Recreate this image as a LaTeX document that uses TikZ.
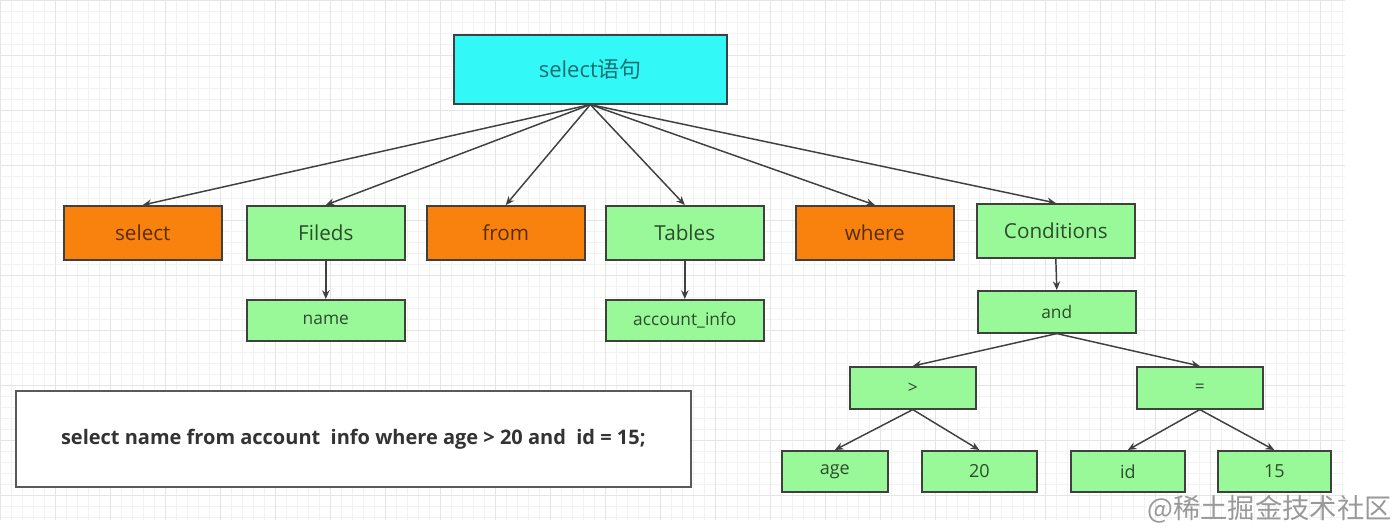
\documentclass[tikz,border=0pt]{standalone}
\usepackage{fontspec}
\setmainfont{Open Sans}
\newfontfamily\cjkfont{Noto Sans CJK SC}
\usetikzlibrary{arrows.meta}
\definecolor{boxorange}{HTML}{F9820F}
\definecolor{boxgreen}{HTML}{99F999}
\definecolor{boxcyan}{HTML}{33F8F8}
\definecolor{edgegray}{HTML}{404040}
\tikzset{
  box/.style={draw=edgegray, line width=1.2pt, inner sep=0pt, anchor=north west},
  obox/.style={box, fill=boxorange, text=boxorange!35!black},
  gbox/.style={box, fill=boxgreen, text=boxgreen!30!black},
  cbox/.style={box, fill=boxcyan, text=boxcyan!45!black},
  conn/.style={draw=edgegray, line width=1.1pt, -{Stealth[length=6.5pt,width=5.5pt]}},
  bigtxt/.style={font=\fontsize{15.5}{17}\selectfont},
  smalltxt/.style={font=\fontsize{13}{15}\selectfont},
}
\begin{document}
\begin{tikzpicture}[x=0.75pt,y=-0.75pt]
\useasboundingbox (0,0) rectangle (1400,531);
\fill[white] (0,0) rectangle (1400,531);
% grid
\foreach \i in {0,...,122} {
  \draw[black!5, line width=0.5pt] (\i*11,0) -- (\i*11,520);
}
\foreach \j in {0,...,47} {
  \draw[black!5, line width=0.5pt] (0,\j*11) -- (1345,\j*11);
}
\foreach \i in {0,...,24} {
  \draw[black!10, line width=0.6pt] (\i*55,0) -- (\i*55,520);
}
\foreach \j in {0,...,9} {
  \draw[black!10, line width=0.6pt] (0,\j*55) -- (1345,\j*55);
}
% top
\node[cbox, minimum width=273*0.75pt, minimum height=69*0.75pt, font=\fontsize{16.5}{18}\selectfont] (root) at (453,34) {select{\cjkfont 语句}};
% row 2
\node[obox, minimum width=158*0.75pt, minimum height=54*0.75pt, bigtxt] (sel) at (63,205) {select};
\node[gbox, minimum width=158*0.75pt, minimum height=54*0.75pt, bigtxt] (fld) at (246,205) {Fileds};
\node[obox, minimum width=158*0.75pt, minimum height=54*0.75pt, bigtxt] (frm) at (426,205) {from};
\node[gbox, minimum width=158*0.75pt, minimum height=54*0.75pt, bigtxt] (tbl) at (605,205) {Tables};
\node[obox, minimum width=158*0.75pt, minimum height=54*0.75pt, bigtxt] (whr) at (795,205) {where};
\node[gbox, minimum width=158*0.75pt, minimum height=54*0.75pt, bigtxt] (cnd) at (976,203) {Conditions};
% row 3
\node[gbox, minimum width=158*0.75pt, minimum height=41*0.75pt, smalltxt] (nam) at (246,299) {name};
\node[gbox, minimum width=158*0.75pt, minimum height=41*0.75pt, smalltxt] (acc) at (605,299) {account\_info};
\node[gbox, minimum width=158*0.75pt, minimum height=42*0.75pt, smalltxt] (and) at (977,290) {and};
% row 4
\node[gbox, minimum width=126*0.75pt, minimum height=42*0.75pt, smalltxt] (gt) at (849,366) {>};
\node[gbox, minimum width=126*0.75pt, minimum height=42*0.75pt, smalltxt] (eq) at (1136,366) {=};
% row 5
\node[gbox, minimum width=106*0.75pt, minimum height=41*0.75pt, font=\fontsize{13.5}{15}\selectfont] (age) at (781,450) {age};
\node[gbox, minimum width=115*0.75pt, minimum height=41*0.75pt, font=\fontsize{13.5}{15}\selectfont] (n20) at (921,450) {20};
\node[gbox, minimum width=114*0.75pt, minimum height=41*0.75pt, font=\fontsize{13.5}{15}\selectfont] (id) at (1070,450) {id};
\node[gbox, minimum width=113*0.75pt, minimum height=41*0.75pt, font=\fontsize{13.5}{15}\selectfont] (n15) at (1217,450) {15};
% sql box
\node[draw=black!65, line width=1.2pt, fill=white, inner sep=0pt, anchor=north west, minimum width=675*0.75pt, minimum height=96*0.75pt, font=\bfseries\fontsize{15}{17}\selectfont, text=black!80] (sql) at (15,390) {select name from account\ \ info where age > 20 and\ \ id = 15;};
% connectors
\foreach \t in {sel,fld,frm,tbl,whr,cnd} \draw[conn] (root.south) -- (\t.north);
\draw[conn] (fld.south) -- (nam.north);
\draw[conn] (tbl.south) -- (acc.north);
\draw[conn] (cnd.south) -- (and.north);
\draw[conn] (and.south) -- (gt.north);
\draw[conn] (and.south) -- (eq.north);
\draw[conn] (gt.south) -- (age.north);
\draw[conn] (gt.south) -- (n20.north);
\draw[conn] (eq.south) -- (id.north);
\draw[conn] (eq.south) -- (n15.north);
% watermark
\node[anchor=east, text=black!40, font=\cjkfont\fontsize{20.5}{22}\selectfont, inner sep=0pt] (wm) at (1392,509) {@稀土掘金技术社区};
\end{tikzpicture}
\end{document}
